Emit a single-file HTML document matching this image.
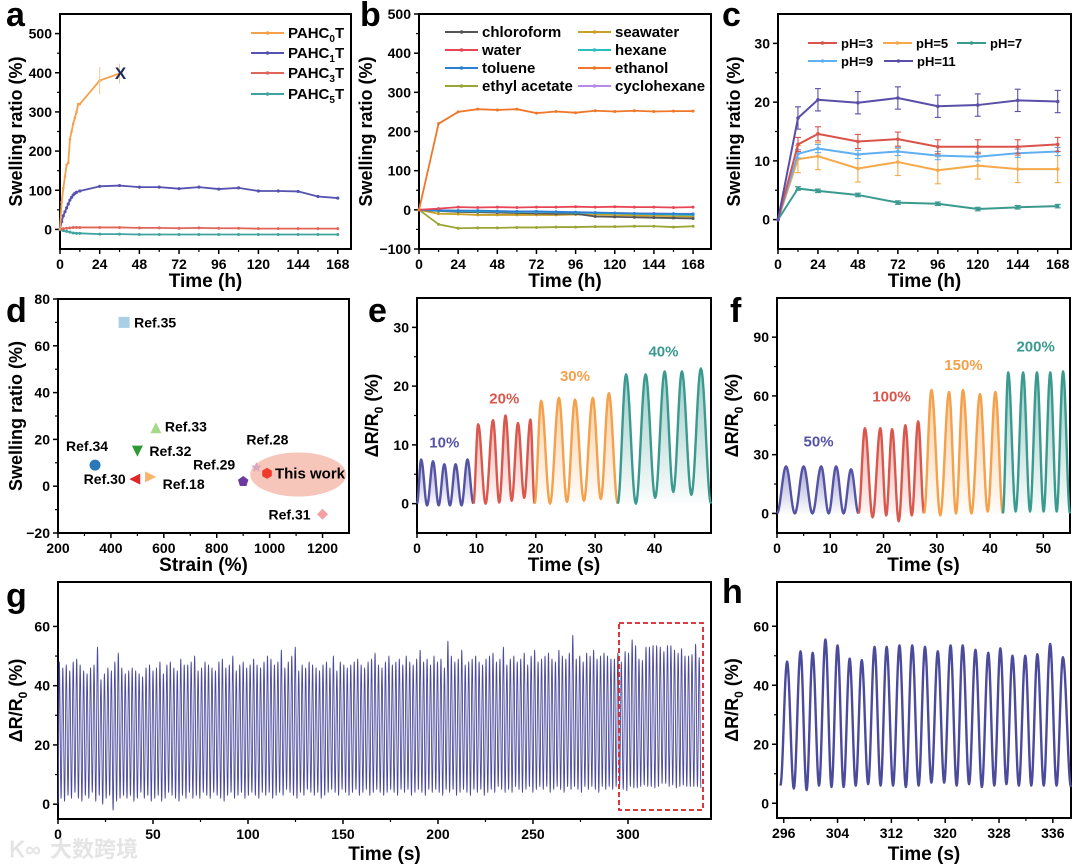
<!DOCTYPE html>
<html><head><meta charset="utf-8"><style>
html,body{margin:0;padding:0;background:#fff;}
svg{display:block;font-family:"Liberation Sans",Arial,sans-serif;font-weight:bold;}
</style></head><body>
<svg id="fig" width="1080" height="868" viewBox="0 0 1080 868" xmlns="http://www.w3.org/2000/svg">
<defs id="defs"></defs>
</svg>
<script>
// ---------- Panel a data ----------
const aT0 = [0,1,2,3,4,5,6,7,8,9,10,11,12,24,36];
const aV0 = [0,70,105,135,165,170,230,250,270,285,300,320,320,380,398];
const aT1 = [0,1,2,3,4,5,6,7,8,9,10,12,24,36,48,60,72,84,96,108,120,132,144,156,168];
const aV1 = [0,20,35,45,55,65,75,82,88,92,95,98,110,112,108,108,104,108,103,106,98,98,97,84,80];
const aT3 = [0,2,4,6,8,10,12,24,36,48,60,72,84,96,108,120,132,144,156,168];
const aV3 = [0,2,3,4,5,5,5,5,5,4,4,3,4,3,3,2,2,2,2,2];
const aV5 = [0,-3,-5,-7,-9,-10,-10,-12,-12,-13,-13,-13,-13,-13,-13,-13,-13,-13,-13,-13];
// ---------- Panel b data ----------
const bT = [0,12,24,36,48,60,72,84,96,108,120,132,144,156,168];
const bEthanol = [0,220,250,257,255,257,247,251,248,253,251,253,251,252,252];
const bWater = [0,3,7,6,7,6,7,7,8,7,8,7,7,6,7];
const bChloroform = [0,-3,-5,-6,-7,-8,-9,-10,-10,-17,-18,-19,-20,-21,-22];
const bSeawater = [0,-10,-11,-13,-13,-13,-13,-13,-12,-12,-13,-14,-15,-16,-17];
const bHexane = [0,-2,-3,-4,-4,-5,-5,-6,-7,-8,-9,-10,-11,-12,-13];
const bToluene = [0,-1,-2,-2,-3,-4,-4,-5,-6,-7,-8,-9,-10,-10,-11];
const bEthylAcetate = [0,-37,-47,-46,-46,-45,-45,-44,-44,-43,-43,-42,-42,-44,-42];
const bCyclohexane = [0,-1,-2,-3,-4,-5,-6,-6,-7,-8,-8,-9,-9,-10,-10];
// ---------- Panel c data ----------
const cT = [0,12,24,48,72,96,120,144,168];
const cPH3 = [0,12.8,14.6,13.3,13.7,12.4,12.4,12.4,12.8];
const cPH5 = [0,10.3,10.8,8.7,9.8,8.4,9.2,8.6,8.6];
const cPH7 = [0,5.3,4.9,4.2,2.9,2.7,1.8,2.1,2.3];
const cPH9 = [0,11.2,12.1,11.1,11.6,10.9,10.7,11.3,11.6];
const cPH11 = [0,17.3,20.4,19.9,20.7,19.3,19.5,20.3,20.1];
const cErr = [1.2,2.3,0.3,0.7,1.9];
// ---------- Panel d data ----------
const dLabels = ["Ref.35","Ref.33","Ref.32","Ref.34","Ref.30","Ref.18","Ref.29","Ref.28","This work","Ref.31"];
const dStrain = [450,570,500,340,490,550,900,950,990,1200];
const dSwell = [70,25,15,9,3,4,2,8,5.5,-12];
// ---------- Panel e data ----------
const eLabels = ["10%","20%","30%","40%"];
const eStarts = [0,9.5,19.8,33.8];
const eEnds = [9.5,19.8,33.8,49.5];
const ePeakT = [[0.7,2.7,4.6,6.5,8.5],[10.3,12.8,14.9,17.0,19.1],[20.9,23.9,26.6,29.6,32.3],[35.2,38.5,41.7,44.6,47.8]];
const ePeakV = [[7.5,7.2,6.7,6.7,7.5],[13.5,14.2,15,13.7,14.3],[17.5,18,17.7,18,18.8],[22,22,22.5,22.5,23]];
const eTroughV = [[0,-0.3,-0.3,-0.3,-0.3,0],[0,0,0.2,0.5,1,0],[0,0,0.3,0.5,0.8,0],[0,0,1,2,1.5,0]];
// ---------- Panel f data ----------
const fLabels = ["50%","100%","150%","200%"];
const fStarts = [0,15.3,27.6,42.4];
const fEnds = [15.3,27.6,42.4,55];
const fPeakT = [[1.7,5.0,8.3,11.1,13.9],[16.5,19.4,21.6,24.1,26.5],[29.0,32.3,34.9,38.1,41.0],[43.4,46.2,48.8,51.3,53.7]];
const fPeakV = [[24,24,24,24,22.5],[43.5,43.5,43,45,47],[63,62,63,61,62],[72,72,72,72,72.5]];
const fTroughV = [[0,0,0,0,0,0],[0,-2,-1,-4,-1,0],[0,-1,0,0,1,0],[0,1,1,1,1,0]];
// ---------- Panel g / h data ----------
const gPeaks = [48,46,47,45,48,49,47,45,44,46,47,53,42,44,46,45,48,51,46,44,
45,46,45,44,43,46,47,45,46,48,44,47,48,46,45,49,47,47,48,50,
45,46,48,47,46,45,48,49,46,47,50,45,47,48,46,47,49,47,46,48,
50,49,47,48,52,46,48,50,53,45,47,46,48,47,46,45,47,48,46,50,
45,48,47,46,47,48,49,47,46,48,49,51,47,46,48,50,47,48,49,47,
50,48,47,49,52,48,49,47,50,48,49,46,55,50,48,49,52,47,48,49,
50,48,47,49,50,51,48,49,53,47,49,50,48,49,51,47,50,52,48,49,
50,51,49,48,52,50,49,51,57,49,50,48,51,50,52,49,50,51,50,49,49,51];
const gTroughs = [1,2,1,3,2,4,2,1,3,2,4,1,3,0,2,3,-2,1,2,3,
2,3,1,2,4,2,3,1,2,3,1,2,4,3,2,1,3,2,4,2,
3,2,4,3,2,4,3,2,1,3,4,2,3,4,2,3,4,3,2,4,
3,4,2,3,4,3,5,4,3,2,4,3,5,4,3,4,2,3,4,5,
4,3,5,4,3,4,5,3,4,5,3,4,5,4,3,4,5,4,3,5,
4,5,3,4,5,4,3,5,4,5,4,3,5,4,5,3,4,5,4,3,
5,4,5,3,4,5,4,6,5,4,5,4,6,5,4,5,6,4,5,6,
5,6,4,5,6,5,4,6,5,6,5,4,6,5,6,5,4,6,5,6,5,6];
const hPeakT = [296.5,298.5,300.3,302.2,304.0,305.8,307.6,309.5,311.3,313.2,315.1,317.0,318.9,320.8,322.6,324.5,326.4,328.2,330.0,331.9,333.7,335.6,337.5];
const hPeakV = [48,51.5,51,55.5,53.5,49,48.5,53,53,53.5,53.5,53,51.5,53.5,53.5,52,51,52.5,50,50,50.5,54,49.5];
const hTroughV = [6,5,4.5,6,5.5,5.5,6,6.5,6,6,5.5,6,7,7,6,6.5,5.5,6,6.5,6,6,6,6,5.5];
const gPeriod = 1.826, gStart = 0.7;

// ---------- helpers ----------
const NS = "http://www.w3.org/2000/svg";
const svg = document.getElementById("fig");
const defs = document.getElementById("defs");
function el(tag, attrs, parent){
  const e = document.createElementNS(NS, tag);
  for (const k in attrs) e.setAttribute(k, attrs[k]);
  (parent||svg).appendChild(e);
  return e;
}
function txt(str, x, y, size, anchor, fill, parent){
  const t = el("text", {x:x, y:y, "font-size":size, "text-anchor":anchor||"middle", fill:fill||"#000"}, parent);
  t.textContent = str;
  return t;
}
function linScale(d0,d1,r0,r1){ return v => r0 + (v-d0)*(r1-r0)/(d1-d0); }

function axes(c){
  const g = el("g", {});
  
  
  const X = linScale(c.xmin,c.xmax,c.x0,c.x1), Y = linScale(c.ymin,c.ymax,c.y1,c.y0);
  c.xticks.forEach((v,i)=>{
    const t = el("line",{x1:X(v),x2:X(v),y1:c.y1,y2:c.y1+5,stroke:"#000","stroke-width":1.5},g);
    
    
    const l = txt(c.xlabels[i], X(v), c.y1+20, 14, "middle", "#000", g);
    
    
    if (i < c.xticks.length-1){
      const m = (v + c.xticks[i+1])/2;
      el("line",{x1:X(m),x2:X(m),y1:c.y1,y2:c.y1+3,stroke:"#000","stroke-width":1.2},g);
    }
  });
  c.yticks.forEach((v,i)=>{
    const t = el("line",{x1:c.x0-5,x2:c.x0,y1:Y(v),y2:Y(v),stroke:"#000","stroke-width":1.5},g);
    
    
    const l = txt(c.ylabels[i], c.x0-8, Y(v)+5, 14, "end", "#000", g);
    
    
    if (i < c.yticks.length-1){
      const m = (v + c.yticks[i+1])/2;
      el("line",{x1:c.x0-3,x2:c.x0,y1:Y(m),y2:Y(m),stroke:"#000","stroke-width":1.2},g);
    }
  });
  const xt = txt(c.xtitle, (c.x0+c.x1)/2, c.xtY, 19, "middle", "#000", g);
  
  
  const yt = el("text",{x:0,y:0,"font-size":18,"text-anchor":"middle",transform:`translate(${c.ytX},${(c.y0+c.y1)/2}) rotate(-90)`},g);
  
  
  if (c.ytitle === "dr"){
    yt.innerHTML = 'ΔR/R<tspan font-size="12" dy="5">0</tspan><tspan dy="-5"> (%)</tspan>';
  } else yt.textContent = c.ytitle;
  const lt = txt(c.letter, c.lx, c.ly, 34, "start", "#000", g);
  
  
  const plot = el("g",{});
  
  
  const frame = el("rect",{x:c.x0,y:c.y0,width:c.x1-c.x0,height:c.y1-c.y0,fill:"none",stroke:"#000","stroke-width":2},g);
  
  
  return {X,Y,plot,g};
}
function polyline(X,Y,xs,ys,color,w,parent,name){
  const pts = xs.map((x,i)=>X(x).toFixed(2)+","+Y(ys[i]).toFixed(2)).join(" ");
  const p = el("polyline",{points:pts,fill:"none",stroke:color,"stroke-width":w||1.8,"stroke-linejoin":"round"},parent);
  
  
  return p;
}
function markers(X,Y,xs,ys,color,r,parent){
  xs.forEach((x,i)=>{
    const m = el("circle",{cx:X(x),cy:Y(ys[i]),r:r||1.6,fill:color},parent);
    
    
  });
}
function legendLine(x,y,len,color,label,parent,sub,fs){
  const g = el("g",{},parent);
  
  
  el("line",{x1:x,x2:x+len,y1:y,y2:y,stroke:color,"stroke-width":2},g);
  el("circle",{cx:x+len/2,cy:y,r:1.8,fill:color},g);
  const t = el("text",{x:x+len+4,y:y+5,"font-size":fs||15},g);
  if (sub!==undefined && sub!==null) t.innerHTML = label+'<tspan font-size="10" dy="4">'+sub+'</tspan><tspan dy="-4">T</tspan>';
  else t.textContent = label;
  return t;
}
function waveform(start,end,peakT,peakV,troughV){
  const ex = [[start,troughV[0]]];
  for (let i=0;i<peakT.length;i++){
    ex.push([peakT[i],peakV[i]]);
    const nt = i<peakT.length-1 ? (peakT[i]+peakT[i+1])/2 : end;
    ex.push([nt,troughV[i+1]]);
  }
  const out=[];
  for (let k=0;k<ex.length-1;k++){
    const [t0,v0]=ex[k],[t1,v1]=ex[k+1];
    const n=12;
    for(let j=0;j<n;j++){
      const f=j/n, s=(1-Math.cos(Math.PI*f))/2;
      out.push([t0+(t1-t0)*f, v0+(v1-v0)*s]);
    }
  }
  out.push(ex[ex.length-1]);
  return out;
}
let gradId=0;
function wavePanel(A,starts,ends,PT,PV,TV,colors,labels,labelPos){
  starts.forEach((s,i)=>{
    const pts = waveform(s,ends[i],PT[i],PV[i],TV[i]);
    const id = "gr"+(gradId++);
    const lg = el("linearGradient",{id:id,x1:0,y1:0,x2:0,y2:1},defs);
    el("stop",{offset:"0","stop-color":colors[i],"stop-opacity":0.5},lg);
    el("stop",{offset:"1","stop-color":colors[i],"stop-opacity":0.02},lg);
    let d = "M"+A.X(pts[0][0])+","+A.Y(0);
    pts.forEach(p=>{ d+=" L"+A.X(p[0]).toFixed(2)+","+A.Y(p[1]).toFixed(2); });
    d += " L"+A.X(pts[pts.length-1][0])+","+A.Y(0)+" Z";
    const area = el("path",{d:d,fill:"url(#"+id+")",stroke:"none"},A.plot);
    
    
    polyline(A.X,A.Y,pts.map(p=>p[0]),pts.map(p=>p[1]),colors[i],2.4,A.plot,'segment-'+labels[i]);
    const maxV = Math.max(...PV[i]);
    const mid = (PT[i][0]+PT[i][PT[i].length-1])/2;
    const lab = txt(labels[i], A.X(mid), A.Y(maxV)-labelPos, 15, "middle", colors[i], A.plot);
    
    
  });
}

// ===== Panel a =====
(function(){
  const A = axes({name:"panel-a",x0:60,x1:351,y0:14,y1:249,xmin:0,xmax:176,ymin:-50,ymax:550,
    xticks:[0,24,48,72,96,120,144,168],xlabels:["0","24","48","72","96","120","144","168"],
    yticks:[0,100,200,300,400,500],ylabels:["0","100","200","300","400","500"],
    xtitle:"Time (h)",xtY:287,ytitle:"Swelling ratio (%)",ytX:22,letter:"a",lx:6,ly:26});
  polyline(A.X,A.Y,aT3,aV5,"#3fa3a0",1.8,A.plot,'pahc5t-line'); markers(A.X,A.Y,aT3,aV5,"#3fa3a0",1.5,A.plot);
  polyline(A.X,A.Y,aT3,aV3,"#e0665a",1.8,A.plot,'pahc3t-line'); markers(A.X,A.Y,aT3,aV3,"#e0665a",1.5,A.plot);
  polyline(A.X,A.Y,aT1,aV1,"#5552b0",1.8,A.plot,'pahc1t-line'); markers(A.X,A.Y,aT1,aV1,"#5552b0",1.6,A.plot);
  polyline(A.X,A.Y,aT0,aV0,"#f5a04a",1.8,A.plot,'pahc0t-line'); markers(A.X,A.Y,aT0,aV0,"#f5a04a",1.3,A.plot);
  [[24,35],[36,25]].forEach(e=>{
    const i=aT0.indexOf(e[0]);
    el("line",{x1:A.X(e[0]),x2:A.X(e[0]),y1:A.Y(aV0[i]-e[1]),y2:A.Y(aV0[i]+e[1]),stroke:"#f7c38f","stroke-width":1},A.plot);
  });
  const xm = txt("X", A.X(36)+1, A.Y(400)+6, 17, "middle", "#1a2a5a", A.plot);
   
  legendLine(251,33,33,"#f5a04a","PAHC",A.g,"0");
  legendLine(251,53,33,"#5552b0","PAHC",A.g,"1");
  legendLine(251,73,33,"#e0665a","PAHC",A.g,"3");
  legendLine(251,94,33,"#3fa3a0","PAHC",A.g,"5");
})();

// ===== Panel b =====
(function(){
  const A = axes({name:"panel-b",x0:419,x1:711,y0:14,y1:249,xmin:0,xmax:179,ymin:-100,ymax:500,
    xticks:[0,24,48,72,96,120,144,168],xlabels:["0","24","48","72","96","120","144","168"],
    yticks:[-100,0,100,200,300,400,500],ylabels:["−100","0","100","200","300","400","500"],
    xtitle:"Time (h)",xtY:287,ytitle:"Swelling ratio (%)",ytX:372,letter:"b",lx:360,ly:26});
  const series = [[bEthylAcetate,"#9aa535"],[bSeawater,"#c8a028"],[bChloroform,"#555555"],[bCyclohexane,"#b58ae8"],
    [bHexane,"#2bbfbf"],[bToluene,"#2a7fd4"],[bWater,"#e84555"],[bEthanol,"#f0772a"]];
  series.forEach(s=>{ polyline(A.X,A.Y,bT,s[0],s[1],1.8,A.plot); markers(A.X,A.Y,bT,s[0],s[1],1.5,A.plot); });
  legendLine(445,32,33,"#555555","chloroform",A.g);
  legendLine(445,50,33,"#e84555","water",A.g);
  legendLine(445,68,33,"#2a7fd4","toluene",A.g);
  legendLine(445,86,33,"#9aa535","ethyl acetate",A.g);
  legendLine(578,32,33,"#c8a028","seawater",A.g);
  legendLine(578,50,33,"#2bbfbf","hexane",A.g);
  legendLine(578,68,33,"#f0772a","ethanol",A.g);
  legendLine(578,86,33,"#b58ae8","cyclohexane",A.g);
})();

// ===== Panel c =====
(function(){
  const A = axes({name:"panel-c",x0:778,x1:1071,y0:14,y1:249,xmin:0,xmax:176,ymin:-5,ymax:35,
    xticks:[0,24,48,72,96,120,144,168],xlabels:["0","24","48","72","96","120","144","168"],
    yticks:[0,10,20,30],ylabels:["0","10","20","30"],
    xtitle:"Time (h)",xtY:287,ytitle:"Swelling ratio (%)",ytX:740,letter:"c",lx:722,ly:26});
  const series = [[cPH5,"#f5a94a",cErr[1]],[cPH7,"#3a9a8f",cErr[2]],[cPH9,"#5fb0f0",cErr[3]],[cPH3,"#d9534a",cErr[0]],[cPH11,"#5a4fa8",cErr[4]]];
  series.forEach(s=>{
    s[0].forEach((v,i)=>{ if(i===0) return;
      const x=A.X(cT[i]);
      el("line",{x1:x,x2:x,y1:A.Y(v-s[2]),y2:A.Y(v+s[2]),stroke:s[1],"stroke-width":1.1},A.plot);
      el("line",{x1:x-3,x2:x+3,y1:A.Y(v-s[2]),y2:A.Y(v-s[2]),stroke:s[1],"stroke-width":1.1},A.plot);
      el("line",{x1:x-3,x2:x+3,y1:A.Y(v+s[2]),y2:A.Y(v+s[2]),stroke:s[1],"stroke-width":1.1},A.plot);
    });
    polyline(A.X,A.Y,cT,s[0],s[1],2,A.plot); markers(A.X,A.Y,cT,s[0],s[1],1.8,A.plot);
  });
  legendLine(808,43,29,"#d9534a","pH=3",A.g,null,13);
  legendLine(883,43,29,"#f5a94a","pH=5",A.g,null,13);
  legendLine(957,43,29,"#3a9a8f","pH=7",A.g,null,13);
  legendLine(808,61,29,"#5fb0f0","pH=9",A.g,null,13);
  legendLine(884,61,29,"#5a4fa8","pH=11",A.g,null,13);
})();

// ===== Panel d =====
(function(){
  const A = axes({name:"panel-d",x0:58,x1:349,y0:299,y1:533,xmin:200,xmax:1300,ymin:-20,ymax:80,
    xticks:[200,400,600,800,1000,1200],xlabels:["200","400","600","800","1000","1200"],
    yticks:[-20,0,20,40,60,80],ylabels:["−20","0","20","40","60","80"],
    xtitle:"Strain (%)",xtY:571,ytitle:"Swelling ratio (%)",ytX:22,letter:"d",lx:6,ly:322});
  const ell = el("ellipse",{cx:A.X(1108),cy:A.Y(5),rx:48,ry:22,fill:"#f4b3a3","fill-opacity":0.75},A.plot);
   
  const colors=["#a8cfe6","#a6d98a","#2e9a36","#2a78b8","#e0282a","#f9b36a","#6a3aa0","#d9a6bd","#f03a2a","#f4a0a0"];
  const shapes=["square","tri","tridown","circle","tril","trir","pent","star","hex","diamond"];
  const labOff=[[10,5,"start"],[9,4,"start"],[12,5,"start"],[-8,-14,"middle"],[-9,5,"end"],[12,12,"start"],[-8,-12,"end"],[-10,-23,"start"],[8,5,"start"],[-12,5,"end"]];
  dLabels.forEach((lab,i)=>{
    const x=A.X(dStrain[i]), y=A.Y(dSwell[i]), c=colors[i], s=5.5;
    let m;
    switch(shapes[i]){
      case "square": m=el("rect",{x:x-s,y:y-s,width:2*s,height:2*s,fill:c},A.plot); break;
      case "circle": m=el("circle",{cx:x,cy:y,r:s,fill:c},A.plot); break;
      case "tri": m=el("polygon",{points:`${x},${y-s} ${x+s},${y+s} ${x-s},${y+s}`,fill:c},A.plot); break;
      case "tridown": m=el("polygon",{points:`${x-s},${y-s} ${x+s},${y-s} ${x},${y+s}`,fill:c},A.plot); break;
      case "tril": m=el("polygon",{points:`${x-s},${y} ${x+s},${y-s} ${x+s},${y+s}`,fill:c},A.plot); break;
      case "trir": m=el("polygon",{points:`${x+s},${y} ${x-s},${y-s} ${x-s},${y+s}`,fill:c},A.plot); break;
      case "diamond": m=el("polygon",{points:`${x},${y-s} ${x+s},${y} ${x},${y+s} ${x-s},${y}`,fill:c},A.plot); break;
      default: {
        const n = shapes[i]==="pent"?5:(shapes[i]==="hex"?6:10); const pts=[];
        for(let k=0;k<n;k++){ const a=-Math.PI/2+k*2*Math.PI/n; const r=(n===10&&k%2)?s*0.45:s; pts.push((x+r*Math.cos(a)).toFixed(1)+","+(y+r*Math.sin(a)).toFixed(1)); }
        m=el("polygon",{points:pts.join(" "),fill:c},A.plot);
      }
    }
    
    
    const t = txt(lab, x+labOff[i][0], y+labOff[i][1], lab==="This work"?15:14, labOff[i][2], "#000", A.plot);
    
    
  });
})();

// ===== Panel e =====
(function(){
  const A = axes({name:"panel-e",x0:417,x1:711,y0:298,y1:533,xmin:0,xmax:49.5,ymin:-5,ymax:35,
    xticks:[0,10,20,30,40],xlabels:["0","10","20","30","40"],
    yticks:[0,10,20,30],ylabels:["0","10","20","30"],
    xtitle:"Time (s)",xtY:571,ytitle:"dr",ytX:378,letter:"e",lx:368,ly:322});
  wavePanel(A,eStarts,eEnds,ePeakT,ePeakV,eTroughV,["#5553a5","#d9574c","#f5a04a","#3a9a8f"],eLabels,12);
})();

// ===== Panel f =====
(function(){
  const A = axes({name:"panel-f",x0:777,x1:1070,y0:298,y1:533,xmin:0,xmax:55,ymin:-10,ymax:110,
    xticks:[0,10,20,30,40,50],xlabels:["0","10","20","30","40","50"],
    yticks:[0,30,60,90],ylabels:["0","30","60","90"],
    xtitle:"Time (s)",xtY:571,ytitle:"dr",ytX:738,letter:"f",lx:730,ly:322});
  wavePanel(A,fStarts,fEnds,fPeakT,fPeakV,fTroughV,["#5553a5","#d9574c","#f5a04a","#3a9a8f"],fLabels,20);
})();

// ===== Panel g =====
(function(){
  const A = axes({name:"panel-g",x0:58,x1:711,y0:582,y1:819,xmin:0,xmax:343.7,ymin:-5,ymax:75,
    xticks:[0,50,100,150,200,250,300],xlabels:["0","50","100","150","200","250","300"],
    yticks:[0,20,40,60],ylabels:["0","20","40","60"],
    xtitle:"Time (s)",xtY:860,ytitle:"dr",ytX:22,letter:"g",lx:6,ly:607});
  const pT = gPeaks.map((v,i)=>gStart+i*gPeriod).concat(hPeakT);
  const pV = gPeaks.concat(hPeakV);
  const tV = gTroughs.slice(0,gPeaks.length).concat(hTroughV);
  tV[0]=0;
  const pts = waveform(0,338.4,pT,pV,tV);
  polyline(A.X,A.Y,pts.map(q=>q[0]),pts.map(q=>q[1]),"#4b4a9c",0.9,A.plot,'long-term-cycling-line');
  const box = el("rect",{x:619,y:623,width:84,height:187,fill:"none",stroke:"#d3232a","stroke-width":1.8,"stroke-dasharray":"5,3"},A.plot);
   
  const wm = txt("大数跨境", 50, 857, 22, "start", "#e4e4e4", svg);
  wm.setAttribute("font-family",'"Liberation Sans","Noto Sans CJK SC",sans-serif');
   
  const wl = txt("Ꮶ∞", 10, 857, 22, "start", "#e4e4e4", svg);
   
})();

// ===== Panel h =====
(function(){
  const A = axes({name:"panel-h",x0:777,x1:1071,y0:582,y1:818,xmin:295,xmax:338.7,ymin:-5,ymax:75,
    xticks:[296,304,312,320,328,336],xlabels:["296","304","312","320","328","336"],
    yticks:[0,20,40,60],ylabels:["0","20","40","60"],
    xtitle:"Time (s)",xtY:860,ytitle:"dr",ytX:738,letter:"h",lx:722,ly:603});
  const pts = waveform(295.5,338.7,hPeakT,hPeakV,hTroughV).filter(q=>q[0]>=295);
  polyline(A.X,A.Y,pts.map(q=>q[0]),pts.map(q=>q[1]),"#4b4a9c",2.4,A.plot,'zoomed-cycling-line');
})();
</script>
</body></html>
